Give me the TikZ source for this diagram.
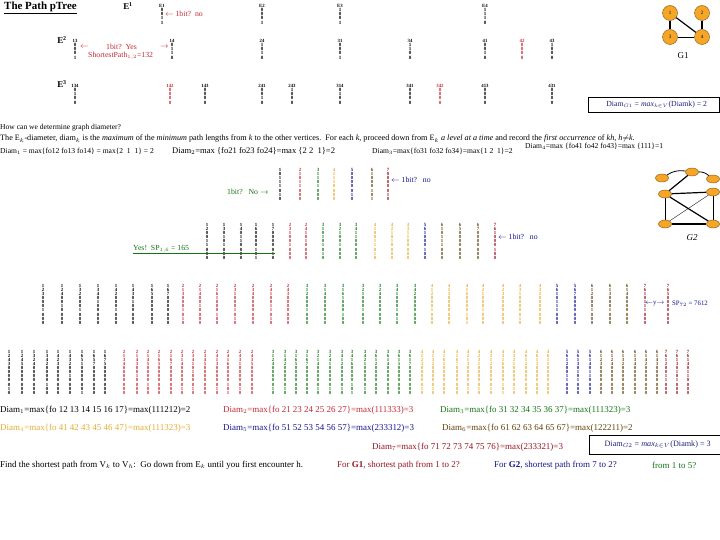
\documentclass[tikz,border=0pt]{standalone}
\usepackage{amssymb}
\usepackage{amsmath}
\usepackage{fontspec}
\setmainfont{Liberation Serif}
\usepackage{tikz}
\definecolor{pred}{RGB}{192, 40, 50}
\definecolor{pgreen}{RGB}{20, 115, 20}
\definecolor{pgold}{RGB}{228, 172, 50}
\definecolor{pblue}{RGB}{20, 20, 140}
\definecolor{pbrown}{RGB}{95, 65, 10}
\definecolor{pdred}{RGB}{150, 20, 30}
\definecolor{navy}{RGB}{30, 30, 120}
\definecolor{orng}{RGB}{245, 165, 40}
\definecolor{orngd}{RGB}{130, 80, 10}
\usetikzlibrary{positioning}
\usetikzlibrary{shapes.geometric}
\pgfdeclarelayer{edgelayer}
\pgfdeclarelayer{nodelayer}
\pgfsetlayers{edgelayer,nodelayer,main}
\makeatletter
\def\vb@do#1{\vbox{\baselineskip=4.2pt\lineskiplimit=-9pt\@tfor\vb@c:=#1\do{\hbox to 3pt{\hss\vb@c\hss}}}}
\newcommand\vbits[1]{\edef\vb@tmp{#1}\expandafter\vb@do\expandafter{\vb@tmp}}
\makeatother
\tikzstyle{txt}=[anchor=west,inner sep=0pt,font=\fontsize{7.6}{8}\selectfont]
\tikzstyle{big}=[anchor=west,inner sep=0pt,font=\fontsize{9}{10}\selectfont]
\tikzstyle{note}=[anchor=west,inner sep=0pt,font=\fontsize{7.8}{8}\selectfont]
\tikzstyle{bitcol}=[anchor=north,inner sep=0pt,font=\fontsize{4.8}{4.8}\selectfont\bfseries]
\tikzstyle{collab}=[inner sep=0pt,font=\fontsize{4.8}{4.8}\selectfont\bfseries]
\tikzstyle{g1col}=[anchor=north,inner sep=0pt,font=\fontsize{5}{5}\selectfont\bfseries]
\tikzstyle{vnode}=[circle,fill=orng,draw=orngd,minimum size=15bp,inner sep=0pt,font=\fontsize{5}{5}\selectfont]
\tikzstyle{gnode}=[ellipse,fill=orng,draw=orngd,minimum width=13bp,minimum height=8bp,inner sep=0pt]
\tikzstyle{dbox}=[draw,anchor=north west,minimum width=131bp,inner sep=0pt,text=navy,font=\fontsize{7.8}{8}\selectfont]

\begin{document}
\begin{tikzpicture}[x=1bp,y=-1bp]
    \useasboundingbox (0,0) rectangle (720,540);

    % G1 pTree
    \node [anchor=west,inner sep=0pt,font=\fontsize{11}{12}\selectfont\bfseries] (title) at (4,8) {\underline{The Path pTree}};
    \node [inner sep=0pt,font=\fontsize{9}{9}\selectfont\bfseries] (e1) at (128,6) {E$^{\mathbf 1}$};
    \node [inner sep=0pt,font=\fontsize{9}{9}\selectfont\bfseries] (e2) at (62,40) {E$^{\mathbf 2}$};
    \node [inner sep=0pt,font=\fontsize{9}{9}\selectfont\bfseries] (e3) at (62,84) {E$^{\mathbf 3}$};

    \foreach \x/\y/\l/\b/\c in {162/8/E1/0011/black, 262/8/E2/0001/black, 340/8/E3/1001/black, 485/8/E4/1110/black,
        75/43/13/0001/black, 172/43/14/0110/black, 262/43/24/1010/black, 340/43/31/0001/black, 410/43/34/1100/black,
        485/43/41/0010/black, 522/43/42/0000/pred, 552/43/43/1000/black,
        75/88/134/0100/black, 170/88/142/0000/pred, 205/88/143/0000/black, 262/88/241/0010/black, 292/88/243/1000/black,
        340/88/314/0100/black, 410/88/341/0000/black, 440/88/342/0000/pred, 485/88/413/0000/black, 552/88/431/0000/black}
        \node [g1col, text=\c, label distance=0.5bp, label={[collab, text=\c]above:\l}] (a\l) at (\x,\y) {\vbits{\b}};

    \node [note, text=pred] (q1) at (165,14) {$\leftarrow$ 1bit?\ \ no};
    \node [note, text=pred] (q2l) at (80,47) {$\leftarrow$};
    \node [note, text=pred] (q2) at (106,47) {1bit?\ \ Yes};
    \node [note, text=pred] (q2r) at (160,47) {$\rightarrow$};
    \node [note, text=pred] (sp12) at (88,56) {ShortestPath$_{1,2}$=132};

    \begin{pgfonlayer}{nodelayer}
        \node [style=vnode] (v1) at (670,13) {1};
        \node [style=vnode] (v2) at (702,13) {2};
        \node [style=vnode] (v3) at (670,37) {3};
        \node [style=vnode] (v4) at (702,37) {4};
    \end{pgfonlayer}
    \begin{pgfonlayer}{edgelayer}
        \draw [very thick] (v1) to (v3);
        \draw [very thick] (v1) to (v4);
        \draw [very thick] (v2) to (v4);
        \draw [thick] (v3) to (v4);
    \end{pgfonlayer}
    \node [font=\fontsize{9}{9}\selectfont] (g1lab) at (683,56) {G1};

    \node [dbox, minimum height=15bp] (dg1) at (588,97) {\hspace{6bp}Diam$_{G1}$ = \textit{max}$_{k\in V}$(Diamk) = 2};

    % text
    \node [txt] (how) at (0,128) {How can we determine graph diameter?};
    \node [txt, font=\fontsize{8.2}{9}\selectfont] (defn) at (0,139) {The E$_k$-diameter, diam$_k$ is the \textit{maximum} of the \textit{minimum} path lengths from \textit{k} to the other vertices.\ \ For each \textit{k}, proceed down from E$_k$ \textit{a level at a time} and record the \textit{first occurrence} of \textit{kh}, \textit{h}$\neq$\textit{k}.};
    \node [txt] (d1) at (0,151) {Diam$_1$ = max\{fo12 fo13 fo14\} = max\{2\ \ 1\ \ 1\} = 2};
    \node [txt, font=\fontsize{8.6}{9}\selectfont] (d2) at (172,151) {Diam$_2$=max\ \{fo21 fo23 fo24\}=max\ \{2\ 2\ \ 1\}=2};
    \node [txt] (d3) at (372,151) {Diam$_3$=max\{fo31 fo32 fo34\}=max\{1\ 2\ \ 1\}=2};
    \node [txt] (d4) at (525,146) {Diam$_4$=max\ \{fo41\ fo42\ fo43\}=max\ \{111\}=1};

    % G2 pTree, level 1
    \foreach \x/\l/\b/\c in {280/1/0111010/black, 300/2/1011000/pred, 318/3/1101000/pgreen, 334/4/1110000/pgold,
        352/5/0000010/pblue, 372/6/1000101/pbrown, 388/7/0000010/pdred}
        \node [bitcol, text=\c, label distance=3bp, label={[collab, text=\c]above:\vbits{\l}}] (p\l) at (\x,172) {\vbits{\b}};
    % level 2
    \foreach \x/\l/\b/\c in {207/12/0011000/black, 224/13/0101000/black, 241/14/0110000/black, 256/16/0000101/black, 273/17/0000010/black,
        290/23/1001000/pred, 306/24/1010000/pred, 323/31/0101010/pgreen, 340/32/1001000/pgreen, 356/34/1100000/pgreen,
        375/41/0011010/pgold, 392/42/1010000/pgold, 408/43/1100000/pgold, 425/56/1000100/pblue,
        442/61/0111000/pbrown, 460/65/0000000/pbrown, 478/67/0000000/pbrown, 495/76/1000100/pdred}
        \node [bitcol, text=\c, label distance=4bp, label={[collab, text=\c]above:\vbits{\l}}] (p\l) at (\x,231) {\vbits{\b}};
    % level 3
    \foreach \x/\l/\b/\c in {43/123/0001000/black, 62/124/0010000/black, 80/132/0001000/black, 98/134/0100000/black,
        116/142/0001000/black, 133/143/0100000/black, 152/165/0000000/black, 168/167/0000000/black,
        183/213/0001010/pred, 200/214/0010000/pred, 217/216/1000100/pred, 235/231/0001010/pred, 253/234/0000000/pred, 271/241/0011010/pred, 288/243/0000000/pred,
        307/312/0001000/pgreen, 325/314/0000000/pgreen, 343/316/1000100/pgreen, 363/321/0001000/pgreen, 380/324/0000000/pgreen, 397/341/0001010/pgreen, 415/342/0000000/pgreen,
        432/412/0001000/pgold, 449/413/0000000/pgold, 467/416/0000101/pgold, 483/421/0001000/pgold, 503/423/0000000/pgold, 520/431/0000010/pgold, 540/432/0000000/pgold,
        557/561/0111000/pblue, 575/567/0000000/pblue, 592/612/0001000/pbrown, 610/613/0001000/pbrown, 627/614/0000000/pbrown,
        645/761/0111000/pdred, 668/765/0000000/pdred}
        \node [bitcol, text=\c, label distance=6bp, label={[collab, text=\c]above:\vbits{\l}}] (p\l) at (\x,296) {\vbits{\b}};
    % level 4
    \foreach \x/\l/\b/\c in {9/1243/0000010/black, 22/1245/0000000/black, 34/1324/0000000/black, 47/1342/0000100/black, 58/1423/0000000/black,
        70/1432/0010000/black, 82/1651/0000001/black, 94/1657/0000000/black, 105/1675/0000000/black,
        124/2134/0000000/pred, 137/2143/0010000/pred, 148/2145/0000100/pred, 159/2165/0000000/pred, 171/2167/0000000/pred, 182/2314/0000010/pred,
        193/2341/0100010/pred, 205/2345/0000000/pred, 217/2413/0000010/pred, 228/2416/0000101/pred, 240/2431/0000010/pred, 252/2435/0000000/pred,
        273/3124/0000010/pgreen, 285/3142/0000010/pgreen, 296/3165/0000000/pgreen, 307/3167/0000000/pgreen, 318/3214/0000010/pgreen, 330/3241/0000010/pgreen,
        342/3412/0000010/pgreen, 352/3416/0000101/pgreen, 365/3421/0000010/pgreen, 376/3612/0000000/pgreen, 388/3614/0000000/pgreen, 399/3615/0000000/pgreen, 410/3617/0000000/pgreen,
        422/4123/0000010/pgold, 433/4132/0000010/pgold, 444/4165/0000000/pgold, 457/4167/0000000/pgold, 468/4213/0000010/pgold, 479/4231/0000010/pgold,
        491/4312/0000010/pgold, 503/4316/0000101/pgold, 514/4321/0000010/pgold, 526/4612/0000000/pgold, 537/4613/0000000/pgold, 548/4615/0000000/pgold,
        567/5612/0011000/pblue, 578/5613/0101000/pblue, 590/5614/0110000/pblue,
        601/6123/0000000/pbrown, 612/6124/0000000/pbrown, 623/6132/0000000/pbrown, 635/6134/0000000/pbrown, 646/6142/0000000/pbrown, 657/6143/0000000/pbrown,
        666/7612/0011000/pdred, 677/7613/0101000/pdred, 688/7614/0110000/pdred}
        \node [bitcol, text=\c, label distance=4bp, label={[collab, text=\c]above:\vbits{\l}}] (p\l) at (\x,366) {\vbits{\b}};

    \node [note, text=pgreen] (q3) at (227,192) {1bit?\ \ \ No\ $\rightarrow$};
    \node [note, text=pblue] (q4) at (391,180) {$\leftarrow$ 1bit?\ \ \ no};
    \node [note, text=pblue] (q5) at (498,237) {$\leftarrow$ 1bit?\ \ \ no};
    \node [note, text=pgreen] (yes) at (133,249) {Yes!\ \ SP$_{1,6}$ = 165};
    \draw [pgreen] (yes.south west) -- (yes.south west -| p17.east);
    \node [note, text=pblue, font=\fontsize{6.8}{7}\selectfont] (yarr) at (645,304) {$\leftarrow$y$\rightarrow$};
    \node [note, text=pblue, font=\fontsize{6.8}{7}\selectfont] (sp72) at (672,304) {SP$_{72}$ = 7612};

    \begin{pgfonlayer}{nodelayer}
        \node [style=gnode] (w1) at (662,178) {};
        \node [style=gnode] (w2) at (692,172) {};
        \node [style=gnode] (w3) at (713,179) {};
        \node [style=gnode] (w4) at (665,194) {};
        \node [style=gnode] (w5) at (713,192) {};
        \node [style=gnode] (w6) at (665,224) {};
        \node [style=gnode] (w7) at (713,224) {};
    \end{pgfonlayer}
    \begin{pgfonlayer}{edgelayer}
        \draw [thick] (w1) to [bend left=20] (w2);
        \draw [thick] (w2) to [bend left=20] (w3);
        \draw [very thick] (w2) to (w4);
        \draw [very thick] (w4) to (w5);
        \draw (w4) to (w6);
        \draw [very thick] (w4) to (w7);
        \draw [thin] (w5) to (w6);
        \draw (w5) to (w7);
        \draw [very thick] (w6) to (w7);
    \end{pgfonlayer}
    \node [font=\fontsize{9}{9}\selectfont\itshape] (g2lab) at (692,238) {G2};

    % diameters of G2
    \node [big] (e1d) at (0,410) {Diam$_1$=max\{fo 12 13 14 15 16 17\}=max(111212)=2};
    \node [big, text=pred] (e2d) at (223,410) {Diam$_2$=max\{fo 21 23 24 25 26 27\}=max(111333)=3};
    \node [big, text=pgreen] (e3d) at (440,410) {Diam$_3$=max\{fo 31 32 34 35 36 37\}=max(111323)=3};
    \node [big, text=pgold] (e4d) at (0,428) {Diam$_4$=max\{fo 41 42 43 45 46 47\}=max(111323)=3};
    \node [big, text=pblue] (e5d) at (223,428) {Diam$_5$=max\{fo 51 52 53 54 56 57\}=max(233312)=3};
    \node [big, text=pbrown] (e6d) at (442,428) {Diam$_6$=max\{fo 61 62 63 64 65 67\}=max(122211)=2};
    \node [big, text=pdred] (e7d) at (372,447) {Diam$_7$=max\{fo 71 72 73 74 75 76\}=max(233321)=3};
    \node [dbox, minimum height=19bp, font=\fontsize{8.2}{9}\selectfont] (dg2) at (589,435) {\hspace{6bp}Diam$_{G2}$ = \textit{max}$_{k\in V}$(Diamk) = 3};

    \node [big] (find) at (0,465) {Find the shortest path from V$_k$ to V$_h$:\ \ Go down from E$_k$ until you first encounter h.};
    \node [big, text=pdred] (forg1) at (337,465) {For \textbf{G1}, shortest path from 1 to 2?};
    \node [big, text=pblue] (forg2) at (494,465) {For \textbf{G2}, shortest path from 7 to 2?};
    \node [big, text=pgreen] (from15) at (652,465) {from 1 to 5?};
\end{tikzpicture}
\end{document}
